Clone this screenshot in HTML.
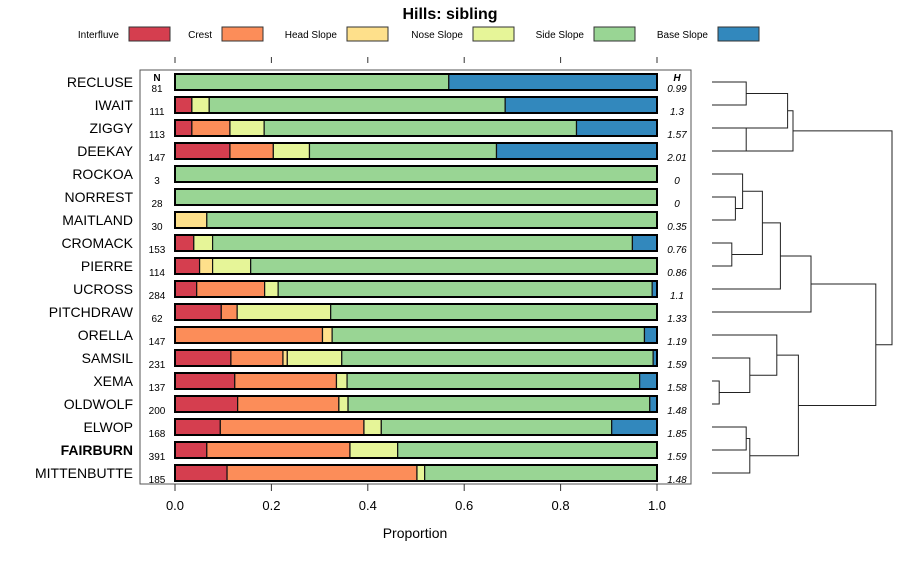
<!DOCTYPE html>
<html><head><meta charset="utf-8"><style>
body{margin:0;background:#fff}
svg{font-family:"Liberation Sans",sans-serif}
</style></head><body>
<svg id="c" width="900" height="560" xmlns="http://www.w3.org/2000/svg">
<text x="450" y="19" text-anchor="middle" font-size="16" font-weight="bold">Hills: sibling</text>
<g id="legend"></g>
<rect x="140" y="70" width="551" height="414" fill="none" stroke="#555" stroke-width="1"/>
<text x="157" y="81" text-anchor="middle" font-size="10" font-weight="bold">N</text>
<text x="677" y="81" text-anchor="middle" font-size="10" font-weight="bold" font-style="italic">H</text>
<g id="bars"></g>
<g id="axes"></g>
<g id="dendro"></g>
<text x="415" y="538" text-anchor="middle" font-size="14">Proportion</text>
</svg>
<script>
const categories=["Interfluve","Crest","Head Slope","Nose Slope","Side Slope","Base Slope"];
const colors=["#d53e4f","#fc8d59","#fee08b","#e6f598","#99d594","#3288bd"];
const series=["RECLUSE","IWAIT","ZIGGY","DEEKAY","ROCKOA","NORREST","MAITLAND","CROMACK","PIERRE","UCROSS","PITCHDRAW","ORELLA","SAMSIL","XEMA","OLDWOLF","ELWOP","FAIRBURN","MITTENBUTTE"];
const nValues=[81,111,113,147,3,28,30,153,114,284,62,147,231,137,200,168,391,185];
const hValues=["0.99","1.3","1.57","2.01","0","0","0.35","0.76","0.86","1.1","1.33","1.19","1.59","1.58","1.48","1.85","1.59","1.48"];
// proportions: Interfluve, Crest, Head, Nose, Side, Base
const interfluve=[0,0.035,0.035,0.114,0,0,0,0.039,0.051,0.045,0.096,0,0.116,0.124,0.130,0.094,0.066,0.108];
const crest=[0,0,0.079,0.090,0,0,0,0,0,0.141,0.033,0.306,0.108,0.211,0.210,0.298,0.297,0.394];
const headSlope=[0,0,0,0,0,0,0.066,0,0.027,0,0,0.020,0.009,0,0,0,0,0];
const noseSlope=[0,0.036,0.071,0.075,0,0,0,0.039,0.079,0.028,0.194,0,0.113,0.022,0.019,0.036,0.099,0.016];
const sideSlope=[0.568,0.614,0.648,0.388,1,1,0.934,0.871,0.843,0.776,0.677,0.648,0.646,0.607,0.626,0.478,0.538,0.482];
const baseSlope=[0.432,0.315,0.167,0.333,0,0,0,0.051,0,0.010,0,0.026,0.008,0.036,0.015,0.094,0,0];
const xTicks=[0,0.2,0.4,0.6,0.8,1.0];
const xTickLabels=["0.0","0.2","0.4","0.6","0.8","1.0"];
// dendrogram merges: [left, right, height]; negative = leaf index (-(i+1)), positive = merge number (1-based)
const merges=[[-14,-15,0.04],[-6,-7,0.13],[-8,-9,0.11],[-1,-2,0.19],[-3,-4,0.19],[-16,-17,0.19],[-5,2,0.17],[-13,1,0.21],[7,3,0.28],[4,-3,0.42],[6,-18,0.21],[9,-10,0.38],[8,-12,0.36],[10,-4,0.45],[12,-11,0.55],[13,11,0.48],[15,16,0.91],[14,17,1.0]];

const NS="http://www.w3.org/2000/svg";
function mk(tag,attrs,parent,text){const e=document.createElementNS(NS,tag);for(const k in attrs)e.setAttribute(k,attrs[k]);if(text!==undefined)e.textContent=text;parent.appendChild(e);return e;}
const x0=175,x1=657;
const xs=v=>x0+(x1-x0)*v;
const ys=i=>82+i*23;
const bh=16;
// legend
const lg=document.getElementById('legend');
const legX=[119,212,337,463,584,708];
categories.forEach((c,i)=>{
  const t=mk('text',{x:legX[i],y:38,'text-anchor':'end','font-size':10},lg,c);
  
  
  const r=mk('rect',{x:legX[i]+10,y:27,width:41,height:14,fill:colors[i],stroke:'#333','stroke-width':1},lg);
  
  
});
// bars
const bg=document.getElementById('bars');
const all=[interfluve,crest,headSlope,noseSlope,sideSlope,baseSlope];
series.forEach((s,i)=>{
  const y=ys(i);
  let cum=0;
  all.forEach((arr,k)=>{
    const v=arr[i];
    if(v>0){
      const r=mk('rect',{x:xs(cum),y:y-bh/2,width:xs(cum+v)-xs(cum),height:bh,fill:colors[k],stroke:'#111','stroke-width':1.2},bg);
      
      
    }
    cum+=v;
  });
  const o=mk('rect',{x:x0,y:y-bh/2,width:x1-x0,height:bh,fill:'none',stroke:'#000','stroke-width':2},bg);
  
  
  const l=mk('text',{x:133,y:y+5,'text-anchor':'end','font-size':14,'font-weight':s==='FAIRBURN'?'bold':'normal'},bg,s);
  
  
  const n=mk('text',{x:157,y:y+10,'text-anchor':'middle','font-size':10},bg,nValues[i]);
  
  
  const h=mk('text',{x:677,y:y+10,'text-anchor':'middle','font-size':10,'font-style':'italic'},bg,hValues[i]);
  
  
});
// axes
const ax=document.getElementById('axes');
xTicks.forEach((t,i)=>{
  const tt=mk('line',{x1:xs(t),x2:xs(t),y1:57,y2:63,stroke:'#333'},ax);
  
  
  const tb=mk('line',{x1:xs(t),x2:xs(t),y1:484,y2:491,stroke:'#333'},ax);
  
  
  const tl=mk('text',{x:xs(t),y:510,'text-anchor':'middle','font-size':13},ax,xTickLabels[i]);
  
  
});
// dendrogram
const dg=document.getElementById('dendro');
const dx0=712,dk=180;
const dx=h=>dx0+h*dk;
const node=[];
function pos(id){return id<0?{x:dx0,y:ys(-id-1)}:node[id-1];}
merges.forEach((m,i)=>{
  const a=pos(m[0]),b=pos(m[1]),hx=dx(m[2]);
  const p=mk('path',{d:`M${a.x},${a.y}H${hx}V${b.y}H${b.x}`,fill:'none',stroke:'#222','stroke-width':1},dg);
  
  
  node[i]={x:hx,y:(a.y+b.y)/2};
});
</script>
</body></html>
